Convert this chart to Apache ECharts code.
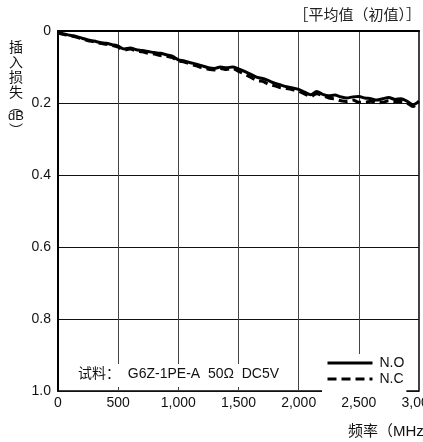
<!DOCTYPE html>
<html>
<head>
<meta charset="utf-8">
<script src="https://cdn.jsdelivr.net/npm/echarts@6/dist/echarts.min.js"></script>
<style>
  html, body { margin: 0; padding: 0; background: #fff; }
  #chart { width: 423px; height: 442px; }
</style>
</head>
<body>
<div id="chart"></div>
<script>
// Frequency sweep points (MHz)
const freqs = [0, 50, 100, 150, 200, 250, 300, 350, 400, 450, 500, 550, 600, 650, 700, 750, 800, 850, 900, 950,
  1000, 1050, 1100, 1150, 1200, 1250, 1300, 1350, 1400, 1450, 1500, 1550, 1600, 1650, 1700, 1750, 1800, 1850, 1900, 1950,
  2000, 2050, 2100, 2150, 2200, 2250, 2300, 2350, 2400, 2450, 2500, 2550, 2600, 2650, 2700, 2750, 2800, 2850, 2900, 2950, 3000];

// Insertion loss (dB), normally-open contact
const lossNO = [0.005, 0.008, 0.012, 0.015, 0.020, 0.025, 0.028, 0.032, 0.034, 0.038, 0.042, 0.050, 0.047, 0.052, 0.054, 0.057, 0.060, 0.062, 0.066, 0.070,
  0.080, 0.083, 0.088, 0.092, 0.097, 0.102, 0.104, 0.100, 0.102, 0.100, 0.105, 0.112, 0.120, 0.128, 0.132, 0.138, 0.145, 0.150, 0.155, 0.158,
  0.162, 0.170, 0.177, 0.168, 0.176, 0.180, 0.178, 0.183, 0.186, 0.183, 0.182, 0.186, 0.188, 0.192, 0.188, 0.185, 0.190, 0.188, 0.195, 0.205, 0.195];

// Insertion loss (dB), normally-closed contact
const lossNC = [0.005, 0.010, 0.013, 0.017, 0.022, 0.027, 0.030, 0.034, 0.037, 0.040, 0.045, 0.053, 0.050, 0.056, 0.058, 0.062, 0.064, 0.068, 0.070, 0.074,
  0.083, 0.086, 0.092, 0.097, 0.102, 0.106, 0.108, 0.104, 0.107, 0.104, 0.112, 0.120, 0.128, 0.138, 0.140, 0.148, 0.152, 0.158, 0.160, 0.163,
  0.168, 0.175, 0.182, 0.174, 0.180, 0.186, 0.189, 0.194, 0.196, 0.192, 0.198, 0.198, 0.195, 0.200, 0.198, 0.194, 0.196, 0.196, 0.200, 0.210, 0.198];

const seriesNames = ['N.O', 'N.C'];
const yTitleChars = ['插', '入', '损', '失'];

const FONT = "'Liberation Sans', 'Noto Sans CJK SC', sans-serif";
const CJK = "'Noto Sans CJK SC', sans-serif";

const chart = echarts.init(document.getElementById('chart'));

const pairs = arr => freqs.map((f, i) => [f, arr[i]]);

const yTitle = yTitleChars.map((c, i) => ({
  type: 'text', left: 9, top: 40 + i * 15,
  style: { text: c, font: '14px ' + CJK, fill: '#111' }
}));
yTitle.push(
  { type: 'text', left: 9, top: 99, style: { text: '︵', font: '14px ' + CJK, fill: '#111' } },
  { type: 'text', left: 8, top: 110, style: { text: 'dB', font: '13px ' + FONT, fill: '#111' } },
  { type: 'text', left: 9, top: 123, style: { text: '︶', font: '14px ' + CJK, fill: '#111' } }
);

chart.setOption({
  animation: false,
  backgroundColor: '#fff',
  grid: {
    left: 58, right: 4, top: 31, bottom: 51, outerBoundsMode: 'none', containLabel: false,
    show: true, borderColor: '#000', borderWidth: 1.5
  },
  legend: {
    orient: 'vertical', left: 322, top: 354,
    itemWidth: 45, itemHeight: 14, itemGap: 2,
    backgroundColor: '#fff', padding: [2, 2, 6, 4],
    itemStyle: { opacity: 0 },
    lineStyle: { width: 3 },
    textStyle: { fontFamily: FONT, fontSize: 14, color: '#111', padding: [0, 0, 0, 2] },
    data: seriesNames
  },
  xAxis: {
    type: 'value', min: 0, max: 3000, interval: 500,
    axisLine: { show: true, lineStyle: { color: '#000', width: 2 } },
    axisTick: { show: false },
    axisLabel: {
      margin: 5, fontFamily: FONT, fontSize: 14, color: '#111',
      formatter: v => v.toLocaleString('en-US')
    },
    splitLine: { show: true, lineStyle: { color: '#444', width: 1 } }
  },
  yAxis: {
    type: 'value', min: 0, max: 1, interval: 0.2, inverse: true,
    axisLine: { show: true, lineStyle: { color: '#000', width: 2 } },
    axisTick: { show: false },
    axisLabel: {
      margin: 7, fontFamily: FONT, fontSize: 14, color: '#111',
      formatter: v => v === 0 ? '0' : v.toFixed(1)
    },
    splitLine: { show: true, lineStyle: { color: '#111', width: 1 } }
  },
  series: [
    {
      name: seriesNames[0], type: 'line', data: pairs(lossNO),
      showSymbol: false, symbol: 'none', smooth: 0.3,
      lineStyle: { color: '#000', width: 3, type: 'solid' },
      itemStyle: { color: '#000' }
    },
    {
      name: seriesNames[1], type: 'line', data: pairs(lossNC),
      showSymbol: false, symbol: 'none', smooth: 0.3,
      lineStyle: { color: '#000', width: 3, type: [9, 5] },
      itemStyle: { color: '#000' }
    }
  ],
  graphic: [
    {
      type: 'text', right: 2, top: 7, z: 50,
      style: { text: '［平均值（初值）］', font: '15px ' + CJK, fill: '#222' }
    },
    {
      type: 'text', left: 70, top: 364, z: 50,
      style: {
        text: '试料：  G6Z-1PE-A  50Ω  DC5V', font: '14px ' + FONT, fill: '#111',
        backgroundColor: '#fff', padding: [3, 8, 6, 8]
      }
    },
    {
      type: 'text', left: 348, top: 424, z: 50,
      style: { text: '频率（MHz）', font: '15px ' + FONT, fill: '#111' }
    }
  ].concat(yTitle)
});
</script>
</body>
</html>
